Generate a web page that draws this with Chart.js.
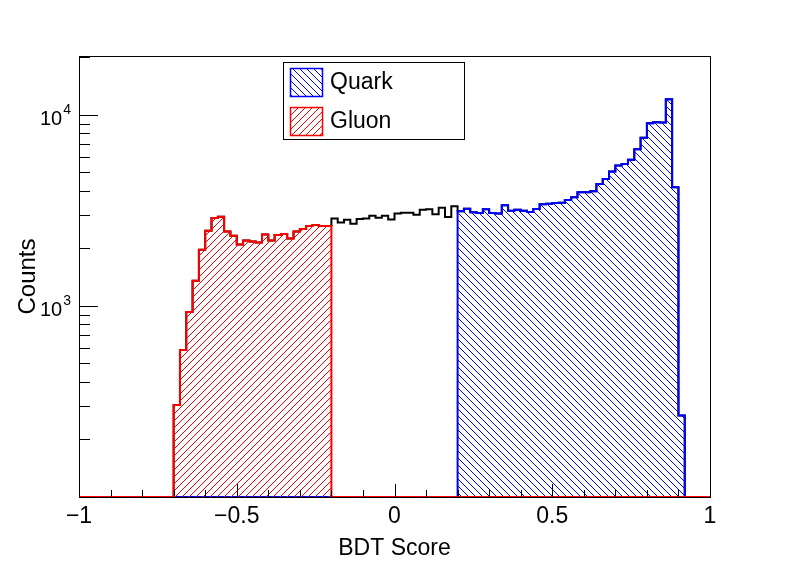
<!DOCTYPE html>
<html>
<head>
<meta charset="utf-8">
<script src="https://cdn.jsdelivr.net/npm/chart.js@4.4.1/dist/chart.umd.min.js"></script>
<style>
  html, body { margin: 0; padding: 0; background: #fff; }
  #wrap { width: 798px; height: 576px; }
</style>
</head>
<body>
<div id="wrap"><canvas id="chart" width="798" height="576"></canvas></div>
<script>
// histogram binning (100 bins from -1 to 1, only non-empty parts listed)
const binWidth = 0.02;
const xRange = [-1, 1];
const yRange = [100, 20300];

const gluonStart = -0.7;
const gluonCounts = [303, 588, 930, 1352, 1967, 2474, 2884, 2929, 2453, 2328, 2097, 2200, 2174,
	2147, 2365, 2200, 2348, 2377, 2254, 2453, 2525, 2617, 2650, 2617, 2617];

const middleStart = -0.2;
const middleCounts = [2870, 2734, 2825, 2692, 2849, 2870, 2964, 2893, 2964, 2835, 3048, 3074, 3074,
	3001, 3187, 3199, 3012, 3265, 2919, 3317];

const quarkStart = 0.2;
const quarkCounts = [3123, 3226, 3086, 3063, 3199, 3063, 3048, 3357, 3149, 3187, 3149, 3100, 3214,
	3398, 3427, 3455, 3468, 3583, 3697, 3928, 3928, 3976, 4347, 4617, 5043, 5423, 5534, 5808,
	6600, 7574, 9036, 9147, 9113, 12070, 4182, 267];

const xLabelValues = [-1, -0.5, 0, 0.5, 1];
const xTickLabels = ['\u22121', '\u22120.5', '0', '0.5', '1'];
const yLabelPowers = [3, 4];
const legendLabels = ['Quark', 'Gluon'];

const FONT = "'Liberation Sans', Arial, Helvetica, sans-serif";
Chart.defaults.font.family = FONT;
Chart.defaults.color = '#000';

function histPoints(start, counts) {
	const base = yRange[0];
	const pts = [{ x: xRange[0], y: base }];
	counts.forEach((c, i) => pts.push({ x: start + i * binWidth, y: c }));
	pts.push({ x: start + counts.length * binWidth, y: base });
	pts.push({ x: xRange[1], y: base });
	return pts;
}

let ctx = document.getElementById('chart').getContext('2d');

// single pixel 45 degree hatching, like ROOT fill styles 3004/3005
function hatch(color, forward) {
	const p = 7;
	const c = document.createElement('canvas');
	c.width = p;
	c.height = p;
	const g = c.getContext('2d');
	g.fillStyle = color;
	for (let i = 0; i < p; i++) {
		g.fillRect(i, forward ? p - 1 - i : i, 1, 1);
	}
	return ctx.createPattern(c, 'repeat');
}

const quarkHatch = hatch('#0000ff', false);
const gluonHatch = hatch('#ff0000', true);

const rootFrame = {
	id: 'rootFrame',
	afterDatasetsDraw(chart) {
		const { ctx: c, chartArea: a, scales } = chart;
		c.save();
		c.strokeStyle = '#000';
		c.lineWidth = 1;
		c.strokeRect(a.left + 0.5, a.top + 0.5, a.right - a.left, a.bottom - a.top);

		// x ticks, inside
		c.beginPath();
		scales.x.ticks.forEach((t) => {
			const px = Math.round(scales.x.getPixelForValue(t.value)) + 0.5;
			const major = xLabelValues.some((v) => Math.abs(v - t.value) < 1e-9);
			c.moveTo(px, a.bottom);
			c.lineTo(px, a.bottom - (major ? 13 : 7));
		});
		// y ticks, inside
		scales.y.ticks.forEach((t) => {
			const lg = Math.log10(t.value);
			const mant = t.value / Math.pow(10, Math.floor(lg + 1e-9));
			if (Math.abs(mant - Math.round(mant)) > 1e-6) return;
			if (t.value < yRange[0] || t.value > yRange[1]) return;
			const major = Math.abs(lg - Math.round(lg)) < 1e-9;
			const py = Math.round(scales.y.getPixelForValue(t.value)) + 0.5;
			c.moveTo(a.left, py);
			c.lineTo(a.left + (major ? 19 : 11), py);
		});
		c.stroke();

		// y labels 10^n
		c.fillStyle = '#000';
		c.textBaseline = 'alphabetic';
		yLabelPowers.forEach((p) => {
			const py = scales.y.getPixelForValue(Math.pow(10, p));
			c.font = '14px ' + FONT;
			c.textAlign = 'right';
			const sw = c.measureText(String(p)).width;
			c.fillText(String(p), 71, py - 1);
			c.font = '20px ' + FONT;
			c.fillText('10', 71 - sw - 1, py + 10);
		});

		// legend
		const lx = 283.5, ly = 62.5, lw = 181, lh = 77;
		c.fillStyle = '#fff';
		c.fillRect(lx, ly, lw, lh);
		c.strokeStyle = '#000';
		c.strokeRect(lx, ly, lw, lh);
		const entries = [chart.data.datasets[1], chart.data.datasets[2]];
		entries.forEach((ds, i) => {
			const by = 68.5 + i * 39;
			c.fillStyle = ds.backgroundColor;
			c.fillRect(290.5, by, 32, 28);
			c.strokeStyle = ds.borderColor;
			c.lineWidth = 1.5;
			c.strokeRect(290.5, by, 32, 28);
			c.fillStyle = '#000';
			c.font = '23px ' + FONT;
			c.textAlign = 'left';
			c.textBaseline = 'middle';
			c.fillText(ds.label, 330, by + 14);
		});
		c.restore();
	},
};

let histChart = new Chart(ctx, {
	type: 'line',
	data: {
		datasets: [
			{
				label: 'All',
				data: histPoints(gluonStart, gluonCounts.concat(middleCounts, quarkCounts)),
				borderColor: '#000',
				borderWidth: 2,
				fill: false,
				order: 3,
			},
			{
				label: legendLabels[0],
				data: histPoints(quarkStart, quarkCounts),
				borderColor: '#0000ff',
				backgroundColor: quarkHatch,
				borderWidth: 2,
				fill: 'start',
				order: 2,
			},
			{
				label: legendLabels[1],
				data: histPoints(gluonStart, gluonCounts),
				borderColor: '#ff0000',
				backgroundColor: gluonHatch,
				borderWidth: 2,
				fill: 'start',
				order: 1,
			},
		],
	},
	options: {
		responsive: false,
		animation: false,
		events: [],
		elements: {
			line: { stepped: true, tension: 0 },
			point: { radius: 0 },
		},
		layout: { padding: { top: 56, right: 88, left: 0, bottom: 0 } },
		scales: {
			x: {
				type: 'linear',
				min: xRange[0],
				max: xRange[1],
				afterFit: (s) => { s.height = 79; },
				grid: { display: false, drawTicks: false },
				border: { display: false },
				ticks: {
					stepSize: 0.1,
					autoSkip: false,
					maxRotation: 0,
					padding: 6,
					font: { size: 23 },
					callback: (v) => {
						const i = xLabelValues.findIndex((x) => Math.abs(x - v) < 1e-9);
						return i >= 0 ? xTickLabels[i] : '';
					},
				},
				title: {
					display: true,
					text: 'BDT Score',
					font: { size: 23 },
					padding: { top: 0, bottom: 14 },
				},
			},
			y: {
				type: 'logarithmic',
				min: yRange[0],
				max: yRange[1],
				afterFit: (s) => { s.width = 79; },
				grid: { display: false, drawTicks: false },
				border: { display: false },
				ticks: { display: false },
				title: {
					display: true,
					text: 'Counts',
					font: { size: 24 },
					padding: { top: 14, bottom: 0 },
				},
			},
		},
		plugins: {
			legend: { display: false },
			tooltip: { enabled: false },
		},
	},
	plugins: [rootFrame],
});
</script>
</body>
</html>
